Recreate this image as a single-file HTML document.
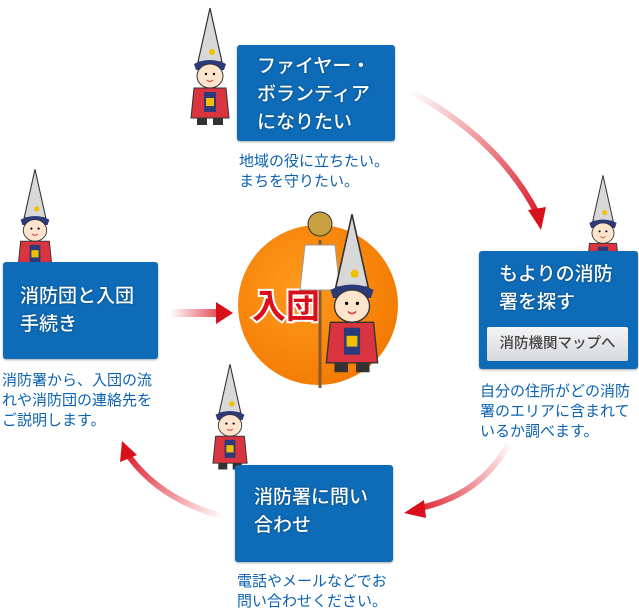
<!DOCTYPE html>
<html><head><meta charset="utf-8">
<style>
html,body{margin:0;padding:0;background:#fff;}
body{width:639px;height:612px;position:relative;overflow:hidden;font-family:"Liberation Sans","Noto Sans CJK JP",sans-serif;}
.box{position:absolute;background:#0d6bb7;border-radius:3px;box-shadow:0 1px 2px rgba(0,0,0,.35);color:#fff;font-size:19px;line-height:28px;font-weight:500;box-sizing:border-box;text-shadow:0 0 2px rgba(0,0,0,.4);white-space:nowrap;}
.desc{position:absolute;color:#0b62b2;font-size:15px;line-height:20px;white-space:nowrap;}
.btn{position:absolute;left:8px;top:76px;width:141px;height:34px;background:linear-gradient(#f3f4f5,#d6d9dd);border-radius:2px;color:#444;font-size:14.5px;line-height:34px;text-align:center;text-shadow:none;}
svg{position:absolute;left:0;top:0;}
</style></head><body>
<svg width="639" height="612" viewBox="0 0 639 612">
<defs>
<linearGradient id="g1" x1="410" y1="90" x2="545" y2="225" gradientUnits="userSpaceOnUse"><stop offset="0" stop-color="#e01020" stop-opacity="0"/><stop offset="1" stop-color="#d8101c"/></linearGradient>
<linearGradient id="g2" x1="510" y1="440" x2="405" y2="512" gradientUnits="userSpaceOnUse"><stop offset="0" stop-color="#e01020" stop-opacity="0"/><stop offset="1" stop-color="#d8101c"/></linearGradient>
<linearGradient id="g3" x1="225" y1="515" x2="120" y2="445" gradientUnits="userSpaceOnUse"><stop offset="0" stop-color="#e01020" stop-opacity="0"/><stop offset="1" stop-color="#d8101c"/></linearGradient>
<linearGradient id="g4" x1="170" y1="0" x2="235" y2="0" gradientUnits="userSpaceOnUse"><stop offset="0" stop-color="#e01020" stop-opacity="0"/><stop offset="1" stop-color="#d8101c"/></linearGradient>
<radialGradient id="og" cx="0.4" cy="0.4" r="0.7"><stop offset="0" stop-color="#ff9a1e"/><stop offset="1" stop-color="#f27800"/></radialGradient>
<g id="kid">
 <path d="M-12 -8 L0 -62 L12 -8 Z" fill="#d8d8d8" stroke="#333" stroke-width="1.2"/>
 <circle cx="2" cy="-18" r="3" fill="#f0c000"/>
 <path d="M-16 -6 Q0 -14 16 -6 L14 0 L-14 0Z" fill="#2c3a7a"/>
 <ellipse cx="0" cy="6" rx="13" ry="12" fill="#fde4cc" stroke="#333" stroke-width="1"/>
 <circle cx="-4" cy="4" r="1.2" fill="#000"/><circle cx="4" cy="4" r="1.2" fill="#000"/>
 <path d="M-3 10 Q0 13 3 10" stroke="#c33" fill="none"/>
 <path d="M-16 18 L16 18 L19 48 L-19 48 Z" fill="#d9343f" stroke="#333" stroke-width="1"/>
 <rect x="-6" y="22" width="12" height="20" fill="#2c3a7a"/>
 <rect x="-4" y="28" width="8" height="8" fill="#f0c000"/>
 <rect x="-13" y="48" width="10" height="7" fill="#333"/><rect x="3" y="48" width="10" height="7" fill="#333"/>
</g>
</defs>

<path d="M412 92 Q500 140 538 215" stroke="url(#g1)" stroke-width="6" fill="none"/>
<path d="M528 210 L541 230 L546 207 Z" fill="#d8101c"/>
<path d="M508 445 Q480 495 420 508" stroke="url(#g2)" stroke-width="6" fill="none"/>
<path d="M424 500 L404 513 L426 518 Z" fill="#d8101c"/>
<path d="M225 517 Q160 500 128 455" stroke="url(#g3)" stroke-width="6" fill="none"/>
<path d="M120 462 L122 441 L137 455 Z" fill="#d8101c"/>
<rect x="170" y="309" width="48" height="8" fill="url(#g4)"/>
<path d="M216 302 L233 313 L216 324 Z" fill="#d8101c"/>

<circle cx="318" cy="305" r="80" fill="url(#og)"/>
<text x="252" y="318" font-family="Liberation Sans,'Noto Sans CJK JP',sans-serif" font-size="34" font-weight="bold" fill="#d8101c" stroke="#fff" stroke-width="4" paint-order="stroke">入団</text>
<line x1="320" y1="240" x2="320" y2="388" stroke="#8a5a2a" stroke-width="3"/>
<path d="M305 245 L335 245 L340 290 L300 290Z" fill="#fff" stroke="#999"/>
<circle cx="320" cy="224" r="12" fill="#c8a040" stroke="#333"/>
<use href="#kid" transform="translate(352,298) scale(1.35)"/>

<use href="#kid" transform="translate(210,70) scale(1.0)"/>
<use href="#kid" transform="translate(603,228) scale(0.85)"/>
<use href="#kid" transform="translate(35,225) scale(0.9)"/>
<use href="#kid" transform="translate(230,420) scale(0.9)"/>
</svg>

<div class="box" style="left:237px;top:45px;width:158px;height:96px;padding:8px 0 0 20px;">ファイヤー・<br>ボランティア<br>になりたい</div>
<div class="desc" style="left:239px;top:152px;">地域の役に立ちたい。<br>まちを守りたい。</div>

<div class="box" style="left:479px;top:251px;width:159px;height:118px;padding:10px 0 0 20px;">もよりの消防<br>署を探す<div class="btn">消防機関マップへ</div></div>
<div class="desc" style="left:480px;top:382px;">自分の住所がどの消防<br>署のエリアに含まれて<br>いるか調べます。</div>

<div class="box" style="left:3px;top:262px;width:155px;height:97px;padding:21px 0 0 17px;">消防団と入団<br>手続き</div>
<div class="desc" style="left:2px;top:371px;">消防署から、入団の流<br>れや消防団の連絡先を<br>ご説明します。</div>

<div class="box" style="left:235px;top:465px;width:158px;height:97px;padding:19px 0 0 19px;">消防署に問い<br>合わせ</div>
<div class="desc" style="left:237px;top:572px;">電話やメールなどでお<br>問い合わせください。</div>
</body></html>
